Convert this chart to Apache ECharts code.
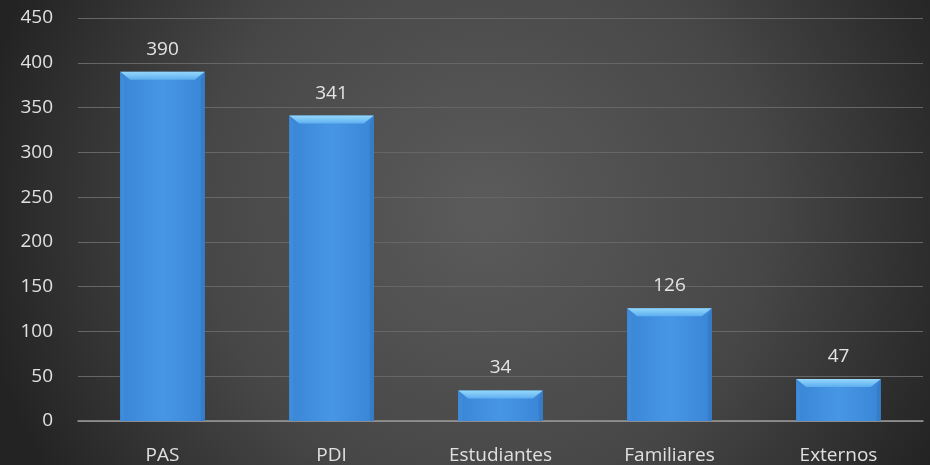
<!DOCTYPE html>
<html><head><meta charset="utf-8">
<script src="https://cdn.jsdelivr.net/npm/echarts@6/dist/echarts.min.js"></script>
<style>html,body{margin:0;padding:0;background:#2a2a2a}#c{width:930px;height:465px}</style>
</head><body><div id="c"></div>
<script>
const categories = ['PAS', 'PDI', 'Estudiantes', 'Familiares', 'Externos'];
const values = [390, 341, 34, 126, 47];
const yTicks = { min: 0, max: 450, interval: 50 };

const chart = echarts.init(document.getElementById('c'));
const FONT = 'Open Sans';
function renderBar(params, api) {
  const c = api.coord([api.value(0), api.value(1)]);
  const b = api.coord([api.value(0), 0]);
  const w = api.size([1, 0])[0] * 0.5;
  const x0 = c[0] - w / 2, x1 = c[0] + w / 2, top = c[1], bot = b[1];
  const bv = Math.min(8, (bot - top) / 2);
  return {
    type: 'group',
    children: [
      { type: 'rect', shape: { x: x0, y: top, width: w, height: bot - top },
        style: { fill: new echarts.graphic.LinearGradient(0, 0, 1, 0, [
          { offset: 0, color: '#3a86d6' }, { offset: 0.5, color: '#4796e6' }, { offset: 1, color: '#3a86d6' }]) } },
      { type: 'polygon', shape: { points: [[x0, top], [x0 + 4, top + bv], [x0 + 4, bot], [x0, bot]] },
        style: { fill: '#3e8cda' } },
      { type: 'polygon', shape: { points: [[x1, top], [x1 - 4, top + bv], [x1 - 4, bot], [x1, bot]] },
        style: { fill: '#357dc8' } },
      { type: 'polygon', shape: { points: [[x0, top], [x1, top], [x1 - 10, top + bv], [x0 + 10, top + bv]] },
        style: { fill: new echarts.graphic.LinearGradient(0, 0, 0, 1, [
          { offset: 0, color: '#95d8fb' }, { offset: 1, color: '#5eaef0' }]) } },
      { type: 'text', x: c[0], y: top - 13,
        style: { text: String(api.value(1)), fill: '#e4e4e4', font: '19px "' + FONT + '"', align: 'center', verticalAlign: 'bottom' } }
    ]
  };
}
chart.setOption({
  backgroundColor: { type: 'radial', x: 0.52, y: 0.45, r: 1.1,
    colorStops: [{ offset: 0, color: '#5b5b5b' }, { offset: 0.55, color: '#474747' }, { offset: 1, color: '#232323' }] },
  animation: false,
  grid: { left: 78, right: 7, top: 18, bottom: 44 },
  xAxis: { type: 'category', data: categories,
    axisLine: { lineStyle: { color: '#9a9a9a', width: 1.5 } }, axisTick: { show: false },
    axisLabel: { color: '#e0e0e0', fontSize: 19, fontFamily: FONT, margin: 25 } },
  yAxis: { type: 'value', min: yTicks.min, max: yTicks.max, interval: yTicks.interval,
    axisLine: { show: false }, axisTick: { show: false },
    splitLine: { lineStyle: { color: '#666666', width: 1 } },
    axisLabel: { color: '#e0e0e0', fontSize: 19, fontFamily: FONT, margin: 25 } },
  series: [{ type: 'custom', renderItem: renderBar,
    data: categories.map((c, i) => [i, values[i]]), encode: { x: 0, y: 1 } }]
});
</script></body></html>
